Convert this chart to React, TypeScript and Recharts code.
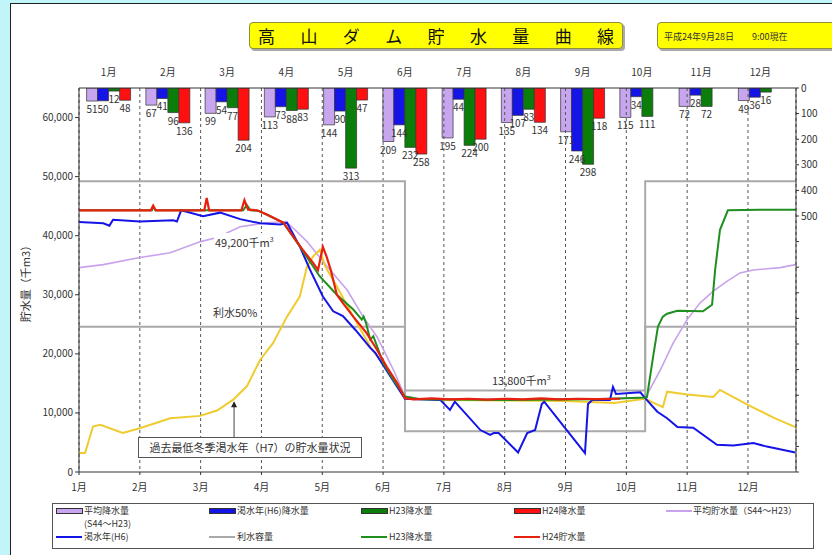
import React from "react";
import {
  ComposedChart,
  BarChart,
  Bar,
  Line,
  XAxis,
  YAxis,
  CartesianGrid,
  ReferenceLine,
  ReferenceDot,
  LabelList,
} from "recharts";

const FONT = '"Noto Sans CJK JP", "Noto Sans", sans-serif';

// monthly rainfall (mm), right axis, hanging from the top
const months = ["1月", "2月", "3月", "4月", "5月", "6月", "7月", "8月", "9月", "10月", "11月", "12月"];
const rainAvg = [51, 67, 99, 113, 144, 209, 195, 135, 171, 115, 72, 49];
const rainH6 = [50, 41, 54, 73, 90, 144, 44, 107, 246, 34, 28, 36];
const rainH23 = [12, 96, 77, 88, 313, 232, 224, 83, 298, 111, 72, 16];
const rainH24 = [48, 136, 204, 83, 47, 258, 200, 134, 118, null, null, null];

const monthTicks = [0, 1, 2, 3, 4, 5, 6, 7, 8, 9, 10, 11];
const storageTicks = [0, 10000, 20000, 30000, 40000, 50000, 60000];
const rainTicks = [0, 100, 200, 300, 400, 500, 600, 700, 800, 900, 1000, 1100, 1200, 1300, 1400, 1500];

// storage curves: [month position (0 = 1月1日), 千m3]
const capacity = [[0, 49200], [5.36, 49200], [5.36, 13800], [9.31, 13800], [9.31, 49200], [11.79, 49200]];
const capacityHalf = [[0, 24600], [5.36, 24600], [5.36, 6900], [9.31, 6900], [9.31, 24600], [11.79, 24600]];

const avgStorage = [
  [0, 34600], [0.4, 35100], [1.0, 36300], [1.5, 37100], [2.0, 39000], [2.27, 39700], [2.65, 41500],
  [3.09, 42200], [3.4, 42400], [3.52, 41300], [3.75, 39000], [4.08, 34800], [4.41, 30800], [4.67, 26300],
  [4.9, 22900], [5.17, 17300], [5.36, 12800], [5.6, 12400], [7.0, 12300], [8.5, 12400], [9.31, 12500],
  [9.56, 17300], [9.77, 21800], [10.0, 25800], [10.21, 28600], [10.43, 30600], [10.66, 32300],
  [10.87, 33700], [11.09, 34200], [11.32, 34400], [11.53, 34600], [11.78, 35100],
];

const h7Storage = [
  [0, 3200], [0.1, 3200], [0.23, 7700], [0.35, 8000], [0.72, 6600], [1.0, 7400], [1.5, 9100],
  [1.99, 9500], [2.27, 10400], [2.53, 12200], [2.76, 14500], [2.98, 19000], [3.19, 21800], [3.42, 26300],
  [3.63, 29700], [3.75, 34800], [3.85, 36500], [3.96, 37600], [4.05, 34800], [4.24, 31400], [4.51, 26300],
  [4.79, 21200], [5.07, 17300], [5.36, 12500], [6.0, 12200], [7.0, 12100], [8.0, 12000], [8.8, 11700],
  [9.31, 12400], [9.51, 11400], [9.6, 11000], [9.67, 13600], [10.0, 13100], [10.43, 12700],
  [10.54, 13900], [10.99, 11400], [11.42, 9200], [11.78, 7600],
];

const h6Storage = [
  [0, 42300], [0.4, 42100], [0.5, 41700], [0.56, 42700], [1.0, 42400], [1.55, 42600], [1.61, 42400],
  [1.68, 44300], [2.04, 43300], [2.32, 43900], [2.65, 42800], [2.98, 42100], [3.31, 41900], [3.42, 42200],
  [3.63, 38200], [3.8, 34200], [4.01, 29700], [4.18, 27200], [4.26, 26800], [4.34, 26400], [4.55, 24000],
  [4.79, 21000], [4.87, 20200], [5.1, 16500], [5.36, 12400], [5.94, 12200], [6.1, 10500], [6.18, 11900],
  [6.6, 7100], [6.76, 6300], [6.82, 6600], [6.9, 6600], [7.22, 3300], [7.37, 6600], [7.5, 7100],
  [7.61, 11500], [7.65, 11900], [8.02, 7100], [8.32, 3200], [8.37, 11500], [8.44, 12200], [8.73, 12200],
  [8.78, 14400], [8.83, 13200], [9.23, 13500], [9.31, 12500], [9.51, 10200], [9.67, 9100], [9.84, 7600],
  [10.1, 7500], [10.49, 4600], [10.76, 4500], [11.09, 4900], [11.31, 4300], [11.78, 3300],
];

const h23Storage = [
  [0, 44300], [1.2, 44300], [1.22, 44900], [1.26, 44300], [2.7, 44300], [2.76, 45200], [2.82, 44300],
  [2.95, 44200], [3.1, 43500], [3.36, 42200], [3.63, 38200], [3.96, 33100], [4.24, 30000], [4.51, 27500],
  [4.65, 25800], [4.68, 26300], [4.72, 25200], [4.79, 22400], [4.84, 23000], [5.0, 18500], [5.17, 15600],
  [5.36, 12800], [5.6, 12300], [7.0, 12200], [8.5, 12300], [9.31, 12600], [9.34, 12700], [9.44, 19500],
  [9.52, 24600], [9.6, 26300], [9.67, 26800], [9.84, 27300], [10.26, 27200], [10.41, 28300],
  [10.46, 34200], [10.54, 41000], [10.67, 44300], [11.2, 44400], [11.79, 44400],
];

const h24Storage = [
  [0, 44300], [1.18, 44300], [1.22, 45100], [1.26, 44300], [2.06, 44300], [2.1, 46400], [2.14, 44300],
  [2.67, 44300], [2.72, 46000], [2.78, 44400], [2.93, 44300], [3.09, 43600], [3.36, 42200], [3.52, 39900],
  [3.68, 37600], [3.85, 35400], [3.93, 34200], [4.01, 38100], [4.07, 36500], [4.14, 34200], [4.24, 30000],
  [4.34, 28600], [4.51, 26300], [4.73, 23500], [4.9, 20700], [5.06, 17800], [5.23, 15100], [5.36, 12500],
  [5.5, 12300], [5.8, 12450], [6.1, 12300], [6.4, 12400], [6.7, 12250], [7.0, 12400], [7.3, 12300],
  [7.6, 12450], [7.9, 12300], [8.2, 12400], [8.5, 12350], [8.9, 12400],
];

const C = {
  lavender: "#c7a6ef",
  lavLine: "#c9a2ec",
  blue: "#1414e6",
  green: "#0b7d0b",
  greenLine: "#1f8f1f",
  red: "#ff1010",
  redLine: "#e8200e",
  yellow: "#f0cb2e",
  gray: "#a9a9a9",
};

const rainData = months.map((m, i) => ({
  month: m,
  avg: rainAvg[i],
  h6: rainH6[i],
  h23: rainH23[i],
  h24: rainH24[i],
}));

const pts = (pairs: number[][]) => pairs.map(([x, y]) => ({ x, y }));

const BarValue = (props: any) => {
  const { x, y, width, height, value } = props;
  if (value == null) return null;
  const bottom = Math.max(Number(y), Number(y) + Number(height));
  return (
    <text x={Number(x) + Number(width) / 2} y={bottom + 12} textAnchor="middle" fontSize={10} fill="#333" fontFamily={FONT}>
      {value}
    </text>
  );
};

const Arrowhead = (props: any) => {
  const { cx, cy } = props;
  return <path d={`M${cx},${cy - 4} L${cx - 3},${cy + 2} L${cx + 3},${cy + 2} Z`} fill="#222" />;
};

const swatchRect = (color: string) => ({
  position: "absolute" as const,
  width: 25,
  height: 4,
  background: color,
  border: "1px solid #333",
});

const swatchLine = (color: string) => ({
  position: "absolute" as const,
  width: 26,
  height: 2,
  background: color,
});

const legendText = { position: "absolute" as const, fontSize: 9, color: "#333", lineHeight: "13px", whiteSpace: "nowrap" as const };

export default function App() {
  const lineProps = { type: "linear" as const, dataKey: "y", dot: false, isAnimationActive: false, activeDot: false };
  return (
    <div style={{ position: "absolute", left: 0, top: 0, width: 832, height: 555, overflow: "hidden", background: "#c2f5fa", fontFamily: FONT }}>
      <div style={{ position: "absolute", left: 10, top: 3, width: 840, height: 580, background: "#fff", border: "1px solid #222" }} />

      {/* rainfall bars */}
      <div style={{ position: "absolute", left: 0, top: 0 }}>
        <BarChart width={790} height={555} data={rainData} margin={{ top: 63, right: 0, left: 79, bottom: 83 }} barCategoryGap={7.6} barGap={0}>
          <XAxis xAxisId={0} orientation="top" dataKey="month" height={25} axisLine={false} tickLine={false} tickMargin={6} interval={0} tick={{ fontSize: 10, fill: "#333" }} />
          <YAxis hide reversed domain={[0, 1500]} allowDataOverflow />
          <Bar dataKey="avg" fill={C.lavender} stroke="#333" strokeWidth={0.7} isAnimationActive={false}>
            <LabelList dataKey="avg" content={BarValue} />
          </Bar>
          <Bar dataKey="h6" fill={C.blue} stroke="#333" strokeWidth={0.7} isAnimationActive={false}>
            <LabelList dataKey="h6" content={BarValue} />
          </Bar>
          <Bar dataKey="h23" fill={C.green} stroke="#333" strokeWidth={0.7} isAnimationActive={false}>
            <LabelList dataKey="h23" content={BarValue} />
          </Bar>
          <Bar dataKey="h24" fill={C.red} stroke="#333" strokeWidth={0.7} isAnimationActive={false}>
            <LabelList dataKey="h24" content={BarValue} />
          </Bar>
        </BarChart>
      </div>

      {/* storage lines */}
      <div style={{ position: "absolute", left: 0, top: 0 }}>
        <ComposedChart width={832} height={555} margin={{ top: 88, right: 0, left: 19, bottom: 63 }}>
          <CartesianGrid horizontal={false} strokeDasharray="3 3" stroke="#555" />
          <XAxis
            type="number"
            dataKey="x"
            domain={[0, 11.79]}
            ticks={monthTicks}
            allowDataOverflow
            height={20}
            tickFormatter={(v: number) => months[v]}
            tick={{ fontSize: 10, fill: "#333" }}
            tickSize={3}
            tickMargin={9}
            stroke="#333"
          />
          <YAxis
            width={60}
            domain={[0, 65000]}
            ticks={storageTicks}
            allowDataOverflow
            tickFormatter={(v: number) => v.toLocaleString("en-US")}
            tick={{ fontSize: 10, fill: "#333" }}
            tickSize={4}
            stroke="#333"
          />
          <YAxis
            yAxisId="r"
            orientation="right"
            width={36}
            reversed
            domain={[0, 1500]}
            ticks={rainTicks}
            allowDataOverflow
            tickFormatter={(v: number) => (v <= 500 ? String(v) : "")}
            tick={{ fontSize: 10, fill: "#333" }}
            tickSize={3}
            stroke="#333"
          />
          <ReferenceLine y={65000} stroke="#333" />
          <ReferenceLine segment={[{ x: 2.55, y: 5900 }, { x: 2.55, y: 11000 }]} stroke="#444" />
          <ReferenceDot x={2.55} y={11300} shape={Arrowhead} />
          <Line {...lineProps} data={pts(capacity)} stroke={C.gray} strokeWidth={2} />
          <Line {...lineProps} data={pts(capacityHalf)} stroke={C.gray} strokeWidth={2} />
          <Line {...lineProps} data={pts(avgStorage)} stroke={C.lavLine} strokeWidth={1.6} />
          <Line {...lineProps} data={pts(h7Storage)} stroke={C.yellow} strokeWidth={2} />
          <Line {...lineProps} data={pts(h6Storage)} stroke={C.blue} strokeWidth={2} />
          <Line {...lineProps} data={pts(h23Storage)} stroke={C.greenLine} strokeWidth={2} />
          <Line {...lineProps} data={pts(h24Storage)} stroke={C.redLine} strokeWidth={2.2} />
        </ComposedChart>
      </div>

      {/* y-axis title */}
      <div style={{ position: "absolute", left: -25, top: 273, width: 100, textAlign: "center", fontSize: 11, color: "#333", transform: "rotate(-90deg)" }}>
        貯水量（千m3）
      </div>

      {/* annotations */}
      <div style={{ position: "absolute", left: 214, top: 233, fontSize: 11, color: "#333", background: "#fff", lineHeight: "13px", padding: "0 1px" }}>
        49,200千m<sup style={{ fontSize: 7 }}>3</sup>
      </div>
      <div style={{ position: "absolute", left: 213, top: 306, fontSize: 11, color: "#333", lineHeight: "13px" }}>利水50%</div>
      <div style={{ position: "absolute", left: 492, top: 371, fontSize: 11, color: "#333", lineHeight: "13px" }}>
        13,800千m<sup style={{ fontSize: 7 }}>3</sup>
      </div>
      <div style={{ position: "absolute", left: 138, top: 437, width: 222, height: 19, border: "1px solid #555", background: "#fff", fontSize: 11, color: "#333", lineHeight: "19px", textAlign: "center", whiteSpace: "nowrap" }}>
        過去最低冬季渇水年（H7）の貯水量状況
      </div>

      {/* title */}
      <div style={{ position: "absolute", left: 249, top: 22, width: 374, height: 27, background: "#ffff00", border: "1px solid #8e8e3c", borderRadius: 4, boxShadow: "2px 2px 0 #aaa", display: "flex", justifyContent: "space-between", alignItems: "center", padding: "0 8px", boxSizing: "border-box", fontSize: 17, color: "#111" }}>
        {"高山ダム貯水量曲線".split("").map((ch, i) => (
          <span key={i}>{ch}</span>
        ))}
      </div>
      <div style={{ position: "absolute", left: 657, top: 22, width: 200, height: 27, background: "#ffff00", border: "1px solid #8e8e3c", borderRadius: 4, boxShadow: "2px 2px 0 #aaa", fontSize: 9, color: "#333", lineHeight: "27px", paddingLeft: 6, boxSizing: "border-box", whiteSpace: "pre" }}>
        {"平成24年9月28日　　9:00現在"}
      </div>

      {/* legend */}
      <div style={{ position: "absolute", left: 52, top: 503, width: 760, height: 44, border: "1px solid #555", background: "#fff" }}>
        <div style={{ ...swatchRect(C.lavender), left: 3, top: 4 }} />
        <div style={{ ...legendText, left: 31, top: 0 }}>平均降水量</div>
        <div style={{ ...legendText, left: 31, top: 13 }}>(S44～H23)</div>
        <div style={{ ...swatchRect(C.blue), left: 156, top: 4 }} />
        <div style={{ ...legendText, left: 184, top: 0 }}>渇水年(H6)降水量</div>
        <div style={{ ...swatchRect(C.green), left: 308, top: 4 }} />
        <div style={{ ...legendText, left: 336, top: 0 }}>H23降水量</div>
        <div style={{ ...swatchRect(C.red), left: 461, top: 4 }} />
        <div style={{ ...legendText, left: 489, top: 0 }}>H24降水量</div>
        <div style={{ ...swatchLine(C.lavLine), left: 613, top: 6 }} />
        <div style={{ ...legendText, left: 640, top: 0 }}>平均貯水量（S44～H23）</div>

        <div style={{ ...swatchLine(C.blue), left: 3, top: 32 }} />
        <div style={{ ...legendText, left: 31, top: 26 }}>渇水年(H6)</div>
        <div style={{ ...swatchLine(C.gray), left: 156, top: 32 }} />
        <div style={{ ...legendText, left: 184, top: 26 }}>利水容量</div>
        <div style={{ ...swatchLine(C.greenLine), left: 308, top: 32 }} />
        <div style={{ ...legendText, left: 336, top: 26 }}>H23降水量</div>
        <div style={{ ...swatchLine(C.redLine), left: 461, top: 32 }} />
        <div style={{ ...legendText, left: 489, top: 26 }}>H24貯水量</div>
      </div>
    </div>
  );
}
